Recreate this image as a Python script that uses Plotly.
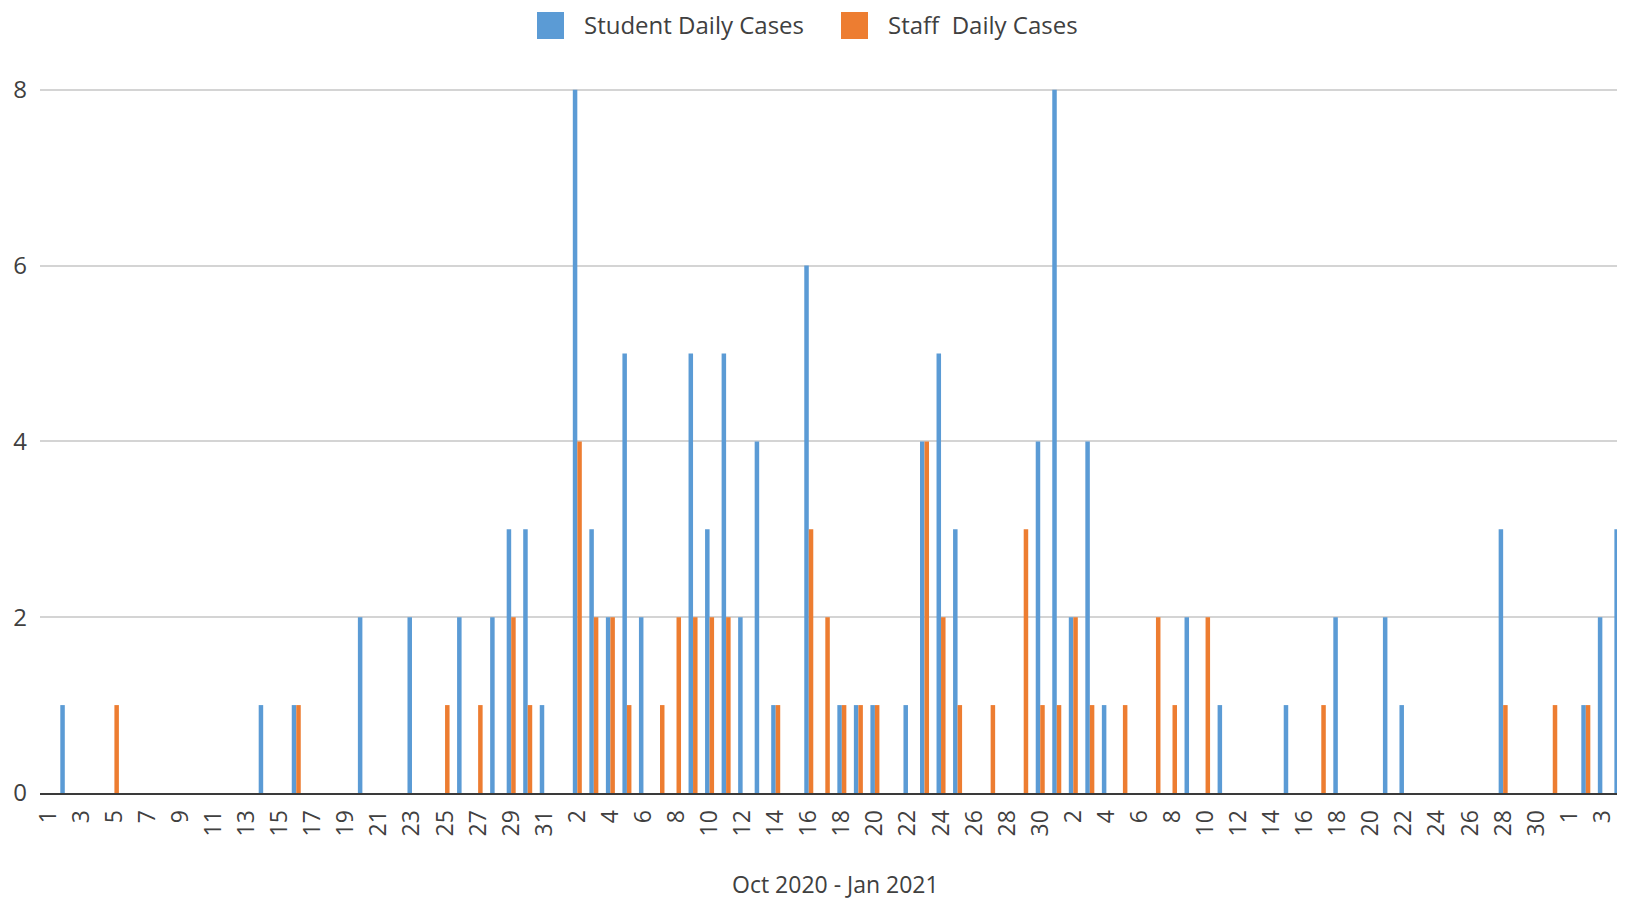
import plotly.graph_objects as go
import pandas as pd

# Category axis: every day from 1 Oct 2020 to 4 Jan 2021
start_date = "2020-10-01"
end_date = "2021-01-04"

student_dates = [
    "2020-10-02", "2020-10-14", "2020-10-16", "2020-10-20", "2020-10-23", "2020-10-26",
    "2020-10-28", "2020-10-29", "2020-10-30", "2020-10-31",
    "2020-11-02", "2020-11-03", "2020-11-04", "2020-11-05", "2020-11-06", "2020-11-09",
    "2020-11-10", "2020-11-11", "2020-11-12", "2020-11-13", "2020-11-14", "2020-11-16",
    "2020-11-18", "2020-11-19", "2020-11-20", "2020-11-22", "2020-11-23", "2020-11-24",
    "2020-11-25", "2020-11-30",
    "2020-12-01", "2020-12-02", "2020-12-03", "2020-12-04", "2020-12-09", "2020-12-11",
    "2020-12-15", "2020-12-18", "2020-12-21", "2020-12-22", "2020-12-28",
    "2021-01-02", "2021-01-03", "2021-01-04",
]
student_values = [
    1, 1, 1, 2, 2, 2,
    2, 3, 3, 1,
    8, 3, 2, 5, 2, 5,
    3, 5, 2, 4, 1, 6,
    1, 1, 1, 1, 4, 5,
    3, 4,
    8, 2, 4, 1, 2, 1,
    1, 2, 2, 1, 3,
    1, 2, 3,
]

staff_dates = [
    "2020-10-05", "2020-10-16", "2020-10-25", "2020-10-27", "2020-10-29", "2020-10-30",
    "2020-11-02", "2020-11-03", "2020-11-04", "2020-11-05", "2020-11-07", "2020-11-08",
    "2020-11-09", "2020-11-10", "2020-11-11", "2020-11-14", "2020-11-16", "2020-11-17",
    "2020-11-18", "2020-11-19", "2020-11-20", "2020-11-23", "2020-11-24", "2020-11-25",
    "2020-11-27", "2020-11-29", "2020-11-30",
    "2020-12-01", "2020-12-02", "2020-12-03", "2020-12-05", "2020-12-07", "2020-12-08",
    "2020-12-10", "2020-12-17", "2020-12-28", "2020-12-31",
    "2021-01-02",
]
staff_values = [
    1, 1, 1, 1, 2, 1,
    4, 2, 2, 1, 1, 2,
    2, 2, 2, 1, 3, 2,
    1, 1, 1, 4, 2, 1,
    1, 3, 1,
    1, 2, 1, 1, 2, 1,
    2, 1, 1, 1,
    1,
]

y_tick_values = [0, 2, 4, 6, 8]
x_title = "Oct 2020 - Jan 2021"
student_name = "Student Daily Cases"
staff_name = "Staff  Daily Cases"

BLUE = "#5B9BD5"
ORANGE = "#ED7D31"
TEXT = "#404040"
FONT = "Open Sans"

days = pd.date_range(start_date, end_date, freq="D")
idx = list(range(len(days)))
pos = {d.strftime("%Y-%m-%d"): i for i, d in enumerate(days)}

student_full = [0] * len(days)
for d, v in zip(student_dates, student_values):
    student_full[pos[d]] = v
staff_full = [0] * len(days)
for d, v in zip(staff_dates, staff_values):
    staff_full[pos[d]] = v

tick_vals = idx[::2]
tick_text = [str(days[i].day) for i in tick_vals]

fig = go.Figure()
fig.add_trace(go.Bar(x=idx, y=student_full, name=student_name,
                     marker=dict(color=BLUE, line=dict(width=0))))
fig.add_trace(go.Bar(x=idx, y=staff_full, name=staff_name,
                     marker=dict(color=ORANGE, line=dict(width=0))))

# The page body adds an 8px margin; the figure is sized/offset to compensate.
OFF = 8
W, H = 1625 - OFF, 902 - OFF
ml, mr, mt, mb = 40 - OFF, 0, 88 - OFF, 109
pw, ph = W - ml - mr, H - mt - mb


def px(x):
    return (x - OFF - ml) / pw


def py(y):
    return (H - mb - (y - OFF)) / ph


fig.update_layout(
    width=W, height=H,
    margin=dict(l=ml, r=mr, t=mt, b=mb, pad=0),
    paper_bgcolor="white", plot_bgcolor="white",
    barmode="group", bargap=0.455, bargroupgap=0,
    showlegend=False,
    font=dict(family=FONT, color=TEXT, size=23),
    xaxis=dict(
        range=[-0.5, 95.37],
        tickmode="array", tickvals=tick_vals, ticktext=tick_text,
        tickangle=-90, tickfont=dict(size=23, color=TEXT),
        showgrid=False, zeroline=False,
        showline=True, linecolor="#3a3a3a", linewidth=2,
        ticks="", ticklabelstandoff=6,
    ),
    yaxis=dict(
        range=[0, 8.02], tickmode="array", tickvals=y_tick_values,
        tickfont=dict(size=24, color=TEXT),
        showgrid=True, gridcolor="#D4D4D4", gridwidth=2,
        zeroline=False, showline=False, ticks="", ticklabelstandoff=12,
    ),
)

# Legend drawn as large squares with labels (as in the reference)
legend_items = [(student_name, BLUE, 537), (staff_name, ORANGE, 841)]
for name, color, x0 in legend_items:
    fig.add_shape(type="rect", xref="paper", yref="paper",
                  x0=px(x0), x1=px(x0 + 27), y0=py(39), y1=py(12),
                  fillcolor=color, line=dict(width=0))
    fig.add_annotation(x=px(x0 + 45), y=py(25), xref="paper", yref="paper",
                       text=name, showarrow=False, xanchor="left", yanchor="middle",
                       font=dict(size=24, color=TEXT, family=FONT))

fig.add_annotation(x=px(835), y=py(884), xref="paper", yref="paper",
                   text=x_title, showarrow=False, xanchor="center", yanchor="middle",
                   borderpad=0,
                   font=dict(size=23, color=TEXT, family=FONT))

fig.write_html("out.html")
